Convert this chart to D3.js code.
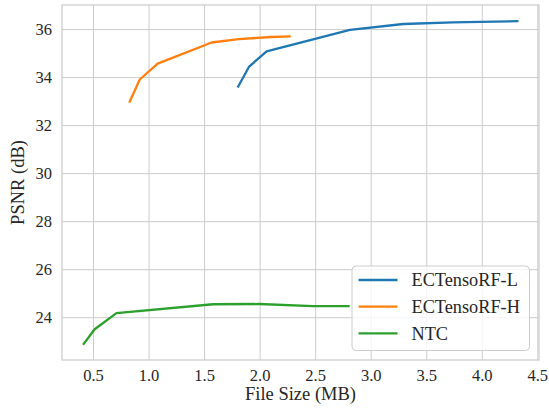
<!DOCTYPE html>
<html><head><meta charset="utf-8">
<script src="https://cdn.jsdelivr.net/npm/d3@7"></script>
<style>
body{margin:0;background:#fff;}
svg text{font-family:"Liberation Serif","Times New Roman",serif !important;fill:#262626;}
</style></head>
<body><svg id="c" width="549" height="411"></svg>
<script>
const seriesNames = ["ECTensoRF-L","ECTensoRF-H","NTC"];
const seriesColors = ["#1f77b4","#ff7f0e","#2ca02c"];
const lX = [1.807,1.906,2.063,2.813,3.294,3.74,3.985,4.32];
const lY = [33.61,34.44,35.07,35.97,36.21,36.28,36.30,36.33];
const hX = [0.831,0.921,1.082,1.568,1.812,2.10,2.27];
const hY = [32.98,33.90,34.56,35.44,35.58,35.67,35.69];
const nX = [0.416,0.515,0.711,1.581,1.996,2.48,2.80];
const nY = [22.89,23.50,24.17,24.54,24.55,24.46,24.46];
const xTicks = [0.5,1.0,1.5,2.0,2.5,3.0,3.5,4.0,4.5];
const yTicks = [24,26,28,30,32,34,36];

const allX = [lX,hX,nX], allY = [lY,hY,nY];
const series = seriesNames.map((n,i)=>({name:n,color:seriesColors[i],pts:allX[i].map((x,j)=>[x,allY[i][j]])}));

const FF='"Liberation Serif","Times New Roman",serif';
const L=62,R=539,T=5,B=360;
const svg=d3.select("#c");
const xs=d3.extent(allX.flat()), ys=d3.extent(allY.flat());
const mx=(xs[1]-xs[0])*0.05, my=(ys[1]-ys[0])*0.05;
const x=d3.scaleLinear().domain([xs[0]-mx,xs[1]+mx]).range([L,R]);
const y=d3.scaleLinear().domain([ys[0]-my,ys[1]+my]).range([B,T]);

// grid
const gx=svg.append("g").attr("transform",`translate(0,${B})`)
 .call(d3.axisBottom(x).tickValues(xTicks).tickFormat(d3.format(".1f")).tickSize(-(B-T)).tickPadding(9));
gx.attr("font-family",FF).attr("font-size",16.5);
gx.select(".domain").remove();
gx.selectAll("line").attr("stroke","#cccccc").attr("stroke-width",1);
gx.selectAll("text").attr("fill","#262626");
const gy=svg.append("g").attr("transform",`translate(${L},0)`)
 .call(d3.axisLeft(y).tickValues(yTicks).tickFormat(d3.format("d")).tickSize(-(R-L)).tickPadding(10));
gy.attr("font-family",FF).attr("font-size",16.5);
gy.select(".domain").remove();
gy.selectAll("line").attr("stroke","#cccccc").attr("stroke-width",1);
gy.selectAll("text").attr("fill","#262626");

// spines
svg.append("rect").attr("x",L).attr("y",T).attr("width",R-L).attr("height",B-T)
 .attr("fill","none").attr("stroke","#cccccc").attr("stroke-width",1.25);

// lines
const line=d3.line().x(d=>x(d[0])).y(d=>y(d[1]));
series.forEach(s=>{
 svg.append("path").datum(s.pts).attr("d",line).attr("fill","none")
  .attr("stroke",s.color).attr("stroke-width",2.3).attr("stroke-linecap","square").attr("stroke-linejoin","round");
});

// labels
svg.append("text").attr("x",(L+R)/2).attr("y",400).attr("text-anchor","middle")
 .attr("font-size","18.5px").text("File Size (MB)");
svg.append("text").attr("transform",`translate(24,${(T+B)/2}) rotate(-90)`).attr("text-anchor","middle")
 .attr("font-size","18.5px").text("PSNR (dB)");

// legend
const lg=svg.append("g");
lg.append("rect").attr("x",352).attr("y",266).attr("width",177.5).attr("height",84.5).attr("rx",4)
 .attr("fill","#fff").attr("fill-opacity",0.8).attr("stroke","#cccccc").attr("stroke-width",1);
series.forEach((s,i)=>{
 const yy=280+i*26.7;
 lg.append("line").attr("x1",358.5).attr("x2",397.5).attr("y1",yy).attr("y2",yy)
  .attr("stroke",s.color).attr("stroke-width",2.3);
 lg.append("text").attr("x",411.5).attr("y",yy).attr("dy","0.35em").attr("font-size","18.3px").text(s.name);
});
</script></body></html>
